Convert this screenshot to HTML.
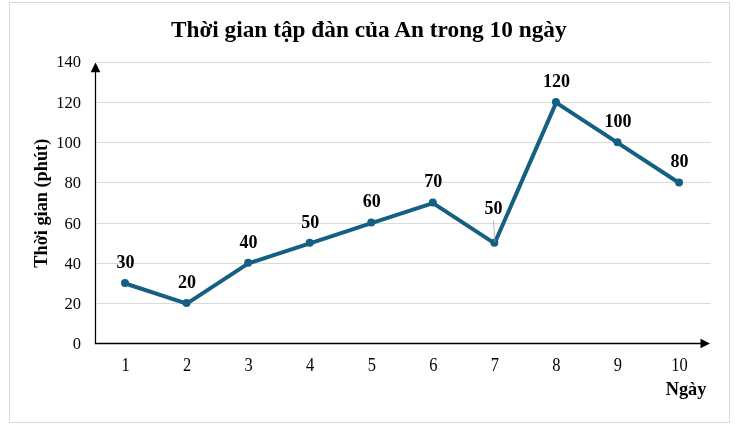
<!DOCTYPE html>
<html><head><meta charset="utf-8"><title>Thời gian tập đàn của An trong 10 ngày</title><style>
html,body{margin:0;padding:0;background:#fff;width:740px;height:429px;overflow:hidden}
svg{display:block;will-change:transform}
text{font-family:"Liberation Serif","Times New Roman",serif;fill:#000}
.t{font-size:16.5px}
.b{font-weight:bold}
</style></head><body>
<svg width="740" height="429" viewBox="0 0 740 429">
<rect x="0" y="0" width="740" height="429" fill="#fff"/>
<rect x="9.5" y="2.5" width="720" height="420" fill="#fff" stroke="#d9d9d9" stroke-width="1"/>

<line x1="96.8" y1="62.5" x2="710.5" y2="62.5" stroke="#d9d9d9" stroke-width="1"/>
<line x1="96.8" y1="102.5" x2="710.5" y2="102.5" stroke="#d9d9d9" stroke-width="1"/>
<line x1="96.8" y1="142.5" x2="710.5" y2="142.5" stroke="#d9d9d9" stroke-width="1"/>
<line x1="96.8" y1="182.5" x2="710.5" y2="182.5" stroke="#d9d9d9" stroke-width="1"/>
<line x1="96.8" y1="223.5" x2="710.5" y2="223.5" stroke="#d9d9d9" stroke-width="1"/>
<line x1="96.8" y1="263.5" x2="710.5" y2="263.5" stroke="#d9d9d9" stroke-width="1"/>
<line x1="96.8" y1="303.5" x2="710.5" y2="303.5" stroke="#d9d9d9" stroke-width="1"/>
<line x1="95.5" y1="343.5" x2="95.5" y2="70" stroke="#000" stroke-width="1.25"/>
<path d="M95.5 62.5 L100.4 72.3 L90.6 72.3 Z" fill="#000"/>
<line x1="94.8" y1="343.5" x2="702" y2="343.5" stroke="#000" stroke-width="1.3"/>
<path d="M710 343.5 L700.5 338.70 L700.5 348.30 Z" fill="#000"/>
<g>
<text class="t" x="81" y="348.7" text-anchor="end">0</text>
<text class="t" x="81" y="308.7" text-anchor="end">20</text>
<text class="t" x="81" y="268.7" text-anchor="end">40</text>
<text class="t" x="81" y="228.7" text-anchor="end">60</text>
<text class="t" x="81" y="187.7" text-anchor="end">80</text>
<text class="t" x="81" y="147.7" text-anchor="end">100</text>
<text class="t" x="81" y="107.7" text-anchor="end">120</text>
<text class="t" x="81" y="66.7" text-anchor="end">140</text>
<text class="t" transform="translate(125.50,371.0) scale(1,1.08)" text-anchor="middle">1</text>
<text class="t" transform="translate(187.06,371.0) scale(1,1.08)" text-anchor="middle">2</text>
<text class="t" transform="translate(248.62,371.0) scale(1,1.08)" text-anchor="middle">3</text>
<text class="t" transform="translate(310.18,371.0) scale(1,1.08)" text-anchor="middle">4</text>
<text class="t" transform="translate(371.74,371.0) scale(1,1.08)" text-anchor="middle">5</text>
<text class="t" transform="translate(433.30,371.0) scale(1,1.08)" text-anchor="middle">6</text>
<text class="t" transform="translate(494.86,371.0) scale(1,1.08)" text-anchor="middle">7</text>
<text class="t" transform="translate(556.42,371.0) scale(1,1.08)" text-anchor="middle">8</text>
<text class="t" transform="translate(617.98,371.0) scale(1,1.08)" text-anchor="middle">9</text>
<text class="t" transform="translate(679.54,371.0) scale(1,1.08)" text-anchor="middle">10</text>
</g>
<polyline points="125.25,283.50 186.81,303.60 248.37,263.40 309.93,243.30 371.49,223.20 433.05,203.10 494.61,243.30 556.17,102.60 617.73,142.80 679.29,183.00" fill="none" stroke="#156082" stroke-width="4.0" stroke-linejoin="round"/>
<circle cx="125.00" cy="282.90" r="4.0" fill="#156082"/>
<circle cx="186.56" cy="303.00" r="4.0" fill="#156082"/>
<circle cx="248.12" cy="262.80" r="4.0" fill="#156082"/>
<circle cx="309.68" cy="242.70" r="4.0" fill="#156082"/>
<circle cx="371.24" cy="222.60" r="4.0" fill="#156082"/>
<circle cx="432.80" cy="202.50" r="4.0" fill="#156082"/>
<circle cx="494.36" cy="242.70" r="4.0" fill="#156082"/>
<circle cx="555.92" cy="102.00" r="4.0" fill="#156082"/>
<circle cx="617.48" cy="142.20" r="4.0" fill="#156082"/>
<circle cx="679.04" cy="182.40" r="4.0" fill="#156082"/>
<line x1="493.4" y1="220.5" x2="494.9" y2="242" stroke="#a6a6a6" stroke-width="0.8"/>
<g>
<text class="b" style="font-size:18px" x="125.50" y="267.70" text-anchor="middle">30</text>
<text class="b" style="font-size:18px" x="187.06" y="287.80" text-anchor="middle">20</text>
<text class="b" style="font-size:18px" x="248.62" y="247.60" text-anchor="middle">40</text>
<text class="b" style="font-size:18px" x="310.18" y="227.50" text-anchor="middle">50</text>
<text class="b" style="font-size:18px" x="371.74" y="207.40" text-anchor="middle">60</text>
<text class="b" style="font-size:18px" x="433.30" y="187.30" text-anchor="middle">70</text>
<text class="b" style="font-size:18px" x="493.4" y="213.7" text-anchor="middle">50</text>
<text class="b" style="font-size:18px" x="556.42" y="86.80" text-anchor="middle">120</text>
<text class="b" style="font-size:18px" x="617.98" y="127.00" text-anchor="middle">100</text>
<text class="b" style="font-size:18px" x="679.54" y="167.20" text-anchor="middle">80</text>
<text class="b" style="font-size:23.3px" x="368.75" y="37.0" text-anchor="middle">Thời gian tập đàn của An trong 10 ngày</text>
<text class="b" style="font-size:18.3px" transform="translate(47.3,203.2) rotate(-90)" text-anchor="middle">Thời gian (phút)</text>
<text class="b" style="font-size:18.3px" x="686.0" y="394.6" text-anchor="middle">Ngày</text>
</g>
</svg>
</body></html>
